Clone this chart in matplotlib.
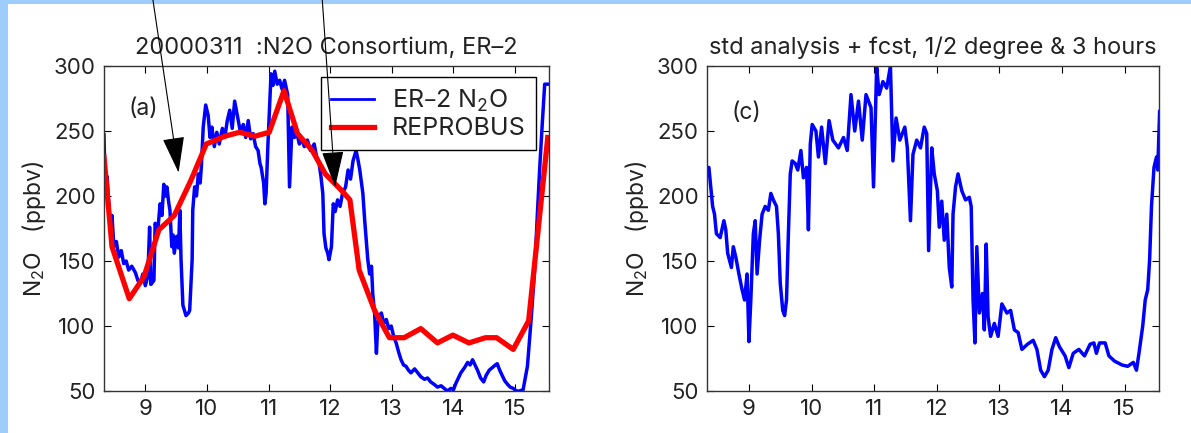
import matplotlib
matplotlib.use("Agg")
import matplotlib.pyplot as plt

plt.rcParams['font.family'] = ['Inter', 'DejaVu Sans']
plt.rcParams['mathtext.default'] = 'regular'

# ER-2 N2O (panel a), flight time in hours
er2_t = [8.33, 8.35, 8.38, 8.43, 8.46, 8.49, 8.53, 8.57, 8.61, 8.65, 8.69, 8.73, 8.78, 8.84,
         8.88, 8.92, 8.96, 9.00, 9.04, 9.07, 9.09, 9.14, 9.16, 9.20, 9.24, 9.27, 9.30, 9.33,
         9.35, 9.38, 9.40, 9.43, 9.45, 9.47, 9.51, 9.54, 9.56, 9.58, 9.61, 9.66, 9.70, 9.72,
         9.76, 9.77, 9.80, 9.83, 9.86, 9.89, 9.91, 9.94, 9.98, 10.02, 10.05, 10.08, 10.12,
         10.16, 10.20, 10.25, 10.29, 10.33, 10.37, 10.41, 10.45, 10.50, 10.54, 10.59, 10.63,
         10.67, 10.71, 10.75, 10.79, 10.83, 10.86, 10.88, 10.92, 10.94, 10.96, 10.99, 11.04,
         11.07, 11.10, 11.14, 11.18, 11.22, 11.26, 11.31, 11.34, 11.38, 11.42, 11.45, 11.50,
         11.53, 11.58, 11.63, 11.68, 11.74, 11.78, 11.82, 11.85, 11.88, 11.90, 11.93, 11.96,
         11.98, 12.02, 12.05, 12.08, 12.12, 12.16, 12.20, 12.25, 12.29, 12.33, 12.37, 12.42,
         12.45, 12.48, 12.53, 12.56, 12.61, 12.64, 12.67, 12.69, 12.72, 12.75, 12.77, 12.80,
         12.83, 12.87, 12.91, 12.95, 12.99, 13.03, 13.07, 13.11, 13.15, 13.19, 13.23, 13.27,
         13.31, 13.37, 13.42, 13.47, 13.53, 13.58, 13.63, 13.69, 13.74, 13.80, 13.85, 13.90,
         13.96, 14.00, 14.04, 14.08, 14.12, 14.18, 14.23, 14.27, 14.31, 14.35, 14.39, 14.44,
         14.49, 14.53, 14.58, 14.63, 14.68, 14.71, 14.75, 14.79, 14.83, 14.88, 14.92, 14.97,
         15.02, 15.07, 15.13, 15.20, 15.26, 15.32, 15.36, 15.40, 15.44, 15.48, 15.55]
er2_n2o = [247, 202, 215, 176, 185, 161, 165, 153, 158, 148, 150, 143, 146, 141,
           135, 133, 140, 131, 138, 176, 132, 135, 179, 172, 194, 185, 209, 200,
           207, 195, 189, 161, 170, 156, 169, 160, 189, 151, 116, 108, 110, 112,
           151, 189, 207, 200, 217, 210, 223, 253, 270, 262, 245, 253, 238,
           249, 240, 252, 245, 258, 266, 252, 273, 260, 250, 255, 245,
           258, 244, 248, 238, 235, 225, 222, 210, 194, 202, 240, 294,
           285, 296, 286, 289, 282, 289, 278, 207, 253, 245, 250, 240,
           245, 238, 243, 235, 240, 230, 225, 215, 202, 171, 160, 156,
           151, 161, 194, 188, 197, 192, 202, 207, 220, 213, 227, 235,
           228, 220, 202, 181, 151, 140, 146, 125, 110, 79, 100, 108,
           110, 102, 105, 98, 100, 92, 87, 80, 74, 70, 69, 66,
           64, 67, 64, 61, 59, 60, 57, 55, 53, 54, 52, 50,
           52, 51, 56, 60, 64, 68, 72, 70, 74, 70, 66, 60,
           57, 62, 66, 68, 70, 71, 66, 62, 58, 55, 53, 52,
           50, 50, 51, 69, 105, 145, 185, 222, 255, 286, 286]

# REPROBUS model along the flight track
rep_t = [8.33, 8.46, 8.74, 8.98, 9.22, 9.47, 9.74, 9.99, 10.29, 10.53, 10.78, 11.01, 11.25,
         11.47, 11.71, 11.92, 12.19, 12.32, 12.47, 12.72, 12.96, 13.20, 13.47, 13.74, 13.99,
         14.25, 14.52, 14.70, 14.97, 15.22, 15.53]
rep_n2o = [230, 161, 121, 138, 174, 185, 212, 240, 246, 249, 246, 249, 281,
           248, 235, 217, 204, 197, 143, 112, 91, 91, 98, 87, 93,
           87, 91, 91, 82, 104, 245]

# std analysis + fcst (panel c)
fc_t = [8.33, 8.36, 8.39, 8.42, 8.45, 8.48, 8.54, 8.60, 8.63, 8.66, 8.72, 8.75, 8.79, 8.84,
        8.89, 8.93, 8.97, 9.00, 9.03, 9.07, 9.10, 9.13, 9.17, 9.21, 9.26, 9.31, 9.35, 9.39,
        9.44, 9.47, 9.50, 9.54, 9.57, 9.60, 9.63, 9.66, 9.69, 9.74, 9.78, 9.83, 9.87, 9.92,
        9.95, 9.98, 10.01, 10.07, 10.11, 10.16, 10.22, 10.28, 10.34, 10.43, 10.51, 10.57,
        10.63, 10.69, 10.75, 10.81, 10.87, 10.95, 10.99, 11.04, 11.08, 11.14, 11.20, 11.26,
        11.30, 11.35, 11.41, 11.49, 11.53, 11.58, 11.62, 11.68, 11.74, 11.80, 11.84, 11.87,
        11.92, 11.96, 12.01, 12.04, 12.08, 12.12, 12.16, 12.20, 12.24, 12.26, 12.30, 12.34,
        12.40, 12.46, 12.52, 12.55, 12.58, 12.61, 12.64, 12.68, 12.73, 12.76, 12.79, 12.82,
        12.86, 12.92, 12.98, 13.04, 13.12, 13.18, 13.24, 13.30, 13.36, 13.45, 13.54, 13.60,
        13.66, 13.72, 13.78, 13.84, 13.90, 13.96, 14.05, 14.11, 14.18, 14.27, 14.36, 14.45,
        14.51, 14.55, 14.60, 14.69, 14.75, 14.84, 14.96, 15.05, 15.14, 15.19, 15.23, 15.29,
        15.33, 15.37, 15.40, 15.43, 15.47, 15.51, 15.53, 15.56]
fc_n2o = [220, 222, 207, 192, 186, 171, 168, 181, 174, 156, 145, 161, 153, 140,
          128, 120, 140, 88, 120, 171, 181, 140, 166, 186, 192, 189, 202, 197,
          192, 171, 133, 112, 108, 120, 171, 217, 227, 225, 220, 235, 214, 222,
          174, 240, 255, 250, 230, 253, 225, 258, 243, 237, 245, 235,
          278, 250, 273, 243, 278, 268, 207, 299, 278, 288, 283, 300,
          227, 260, 243, 253, 237, 181, 232, 243, 237, 253, 248, 158,
          237, 217, 204, 176, 196, 166, 186, 145, 130, 186, 207, 217,
          204, 197, 199, 192, 120, 87, 161, 110, 125, 97, 163, 107,
          92, 102, 92, 117, 110, 112, 97, 95, 82, 86, 89, 82,
          66, 61, 66, 82, 91, 84, 77, 68, 79, 82, 77, 86,
          87, 79, 87, 87, 77, 73, 70, 69, 72, 66, 79, 100,
          120, 128, 151, 192, 222, 230, 220, 265]

xticks = [9, 10, 11, 12, 13, 14, 15]
yticks = [50, 100, 150, 200, 250, 300]
xlim = (8.33, 15.55)
ylim = (50, 300)

txt = '#222222'
fig = plt.figure(figsize=(11.91, 4.33), dpi=100, facecolor='#9fcdfb')
fig.patches.append(plt.Rectangle((8 / 1191, 0), 1, 1 - 4 / 433, transform=fig.transFigure,
                                 facecolor='white', edgecolor='none', zorder=-10))

ax1 = fig.add_axes([104 / 1191, 42 / 433, 445 / 1191, 325 / 433])
ax2 = fig.add_axes([707 / 1191, 42 / 433, 452 / 1191, 325 / 433])

for ax in (ax1, ax2):
    ax.set_xlim(*xlim)
    ax.set_ylim(*ylim)
    ax.set_xticks(xticks)
    ax.set_yticks(yticks)
    ax.tick_params(direction='in', top=True, right=True, length=5, width=0.8,
                   labelsize=16, labelcolor=txt, pad=6)
    for s in ax.spines.values():
        s.set_linewidth(1.0)
        s.set_color('#333333')
    ax.set_ylabel('N$_2$O   (ppbv)', fontsize=16.5, color=txt, labelpad=4)

ax1.plot(er2_t, er2_n2o, color='#0000ff', lw=2.5, label='ER\u20132 N$_2$O')
ax1.plot(rep_t, rep_n2o, color='#ff0000', lw=3.8, label='REPROBUS')
ax1.set_title('20000311  :N2O Consortium, ER\u20132', fontsize=17, color=txt, pad=9)
ax1.text(8.96, 267, '(a)', fontsize=16.5, color=txt, ha='center', va='center')
leg = ax1.legend(loc='upper right', bbox_to_anchor=(0.97, 0.965), borderaxespad=0,
                 fontsize=18, frameon=True, fancybox=False, edgecolor='black',
                 framealpha=1, handlelength=1.75, handletextpad=0.7, borderpad=0.4,
                 labelspacing=0.15)
leg.get_frame().set_linewidth(1.0)
for t in leg.get_texts():
    t.set_color(txt)
leg.get_lines()[0].set_linewidth(2.0)

# arrows coming from above the figure
for start, tip in [((9.12, 352), (9.54, 218)), ((11.87, 352), (12.08, 207))]:
    ax1.annotate('', xy=tip, xytext=start, annotation_clip=False, zorder=10,
                 arrowprops=dict(arrowstyle='-|>,head_length=23,head_width=7',
                                 mutation_scale=1, color='black', lw=0.8,
                                 shrinkA=0, shrinkB=0))

ax2.plot(fc_t, fc_n2o, color='#0000ff', lw=2.5)
ax2.set_title('std analysis + fcst, 1/2 degree & 3 hours', fontsize=17, color=txt, pad=9)
ax2.text(8.96, 264, '(c)', fontsize=16.5, color=txt, ha='center', va='center')

fig.savefig('out.png', dpi=100, facecolor=fig.get_facecolor())
